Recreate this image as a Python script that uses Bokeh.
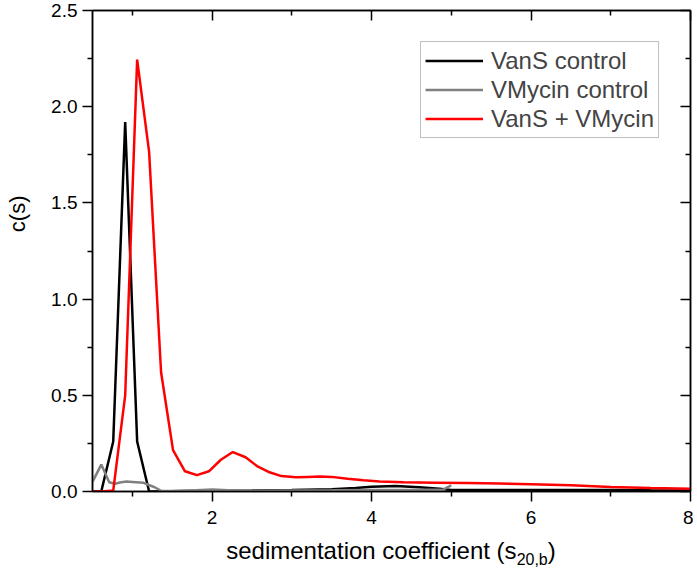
from bokeh.plotting import figure
from bokeh.models import (Range1d, LinearAxis, FixedTicker, PrintfTickFormatter,
                          Legend, LegendItem, Title, Div)
from bokeh.layouts import column
from bokeh.embed import file_html
from bokeh.resources import INLINE

# ---- data ----
vans_x = [0.5, 0.61, 0.76, 0.91, 1.06, 1.21, 1.36, 1.6, 2.0, 2.5, 3.0, 3.5, 3.8, 4.0,
          4.3, 4.6, 4.85, 5.0, 5.5, 6.0, 6.5, 7.0, 7.5, 8.0]
vans_y = [0.0, 0.0, 0.26, 1.92, 0.26, 0.0, 0.0, 0.002, 0.004, 0.005, 0.008, 0.012, 0.018,
          0.025, 0.028, 0.022, 0.014, 0.008, 0.008, 0.008, 0.008, 0.008, 0.006, 0.005]

vmyc_x = [0.5, 0.61, 0.71, 0.78, 0.86, 0.93, 1.0, 1.14, 1.28, 1.36, 1.45, 1.6, 1.8, 2.0,
          2.2, 2.5, 3.0, 3.5, 4.0, 4.5, 4.9, 4.95, 5.0]
vmyc_y = [0.05, 0.14, 0.048, 0.04, 0.048, 0.052, 0.05, 0.045, 0.022, 0.004, 0.002, 0.003,
          0.006, 0.01, 0.006, 0.004, 0.005, 0.006, 0.008, 0.008, 0.01, 0.022, 0.032]

mix_x = [0.5, 0.61, 0.76, 0.91, 1.06, 1.21, 1.36, 1.51, 1.66, 1.81, 1.96, 2.11, 2.26, 2.42,
         2.57, 2.72, 2.87, 3.05, 3.2, 3.35, 3.5, 3.7, 3.9, 4.1, 4.4, 4.8, 5.2, 5.6, 6.0,
         6.5, 7.0, 7.5, 8.0]
mix_y = [0.0, 0.0, 0.005, 0.5, 2.245, 1.765, 0.62, 0.215, 0.105, 0.085, 0.105, 0.165, 0.205,
         0.178, 0.13, 0.1, 0.08, 0.074, 0.076, 0.078, 0.076, 0.066, 0.058, 0.052, 0.048,
         0.046, 0.044, 0.042, 0.038, 0.032, 0.024, 0.018, 0.014]

series_names = ["VanS control", "VMycin control", "VanS + VMycin"]
series_colors = ["#000000", "#808080", "#ff0000"]

x_major = [2, 4, 6, 8]
x_minor = [1, 3, 5, 7]
y_major = [0.0, 0.5, 1.0, 1.5, 2.0, 2.5]
y_minor = [0.25, 0.75, 1.25, 1.75, 2.25]

y_title = "c(s)"
x_title_main = "sedimentation coefficient (s"
x_title_sub = "20,b"

FONT = "Liberation Sans"

p = figure(width=693, height=536, output_backend="svg", toolbar_location=None,
           x_range=Range1d(0.5, 8), y_range=Range1d(0, 2.5),
           x_axis_location=None, y_axis_location=None,
           min_border_left=92, min_border_right=3, min_border_top=10, min_border_bottom=45)
p.xgrid.visible = False
p.ygrid.visible = False
p.outline_line_color = "black"
p.outline_line_width = 1.5
p.background_fill_color = "white"
p.border_fill_color = "white"


def make_axis(ticks, minor, labels, out_len, in_len, fmt=None):
    ax = LinearAxis(ticker=FixedTicker(ticks=ticks, minor_ticks=minor))
    ax.axis_line_color = "black"
    ax.axis_line_width = 1.5
    ax.major_tick_line_color = "black"
    ax.minor_tick_line_color = "black"
    ax.major_tick_line_width = 1.5
    ax.minor_tick_line_width = 1.5
    ax.major_tick_out = out_len
    ax.major_tick_in = in_len
    ax.minor_tick_out = out_len // 2 if out_len else 0
    ax.minor_tick_in = in_len // 2 if in_len else 0
    if labels:
        ax.major_label_text_font = FONT
        ax.major_label_text_font_size = "19px"
        ax.major_label_text_color = "black"
        if fmt:
            ax.formatter = PrintfTickFormatter(format=fmt)
    else:
        ax.major_label_text_font_size = "0px"
        ax.major_label_standoff = 0
        ax.major_label_text_color = None
    return ax


xb = make_axis(x_major, x_minor, True, 10, 0)
xb.major_label_standoff = 9
p.add_layout(xb, "below")
yl = make_axis(y_major, y_minor, True, 10, 0, "%.1f")
yl.major_label_standoff = 5
p.add_layout(yl, "left")
xt = make_axis(x_major, x_minor, False, 0, 10)
p.add_layout(xt, "above")
yr = make_axis(y_major, y_minor, False, 0, 10)
p.add_layout(yr, "right")

# empty spacer between the tick labels and the y title
p.add_layout(Title(text=" ", text_font=FONT, text_font_size="15px",
                   text_font_style="normal", standoff=0), "left")
p.add_layout(Title(text=y_title, align="right", offset=185, standoff=0, text_font=FONT,
                   text_font_size="22px", text_font_style="normal",
                   text_color="black"), "left")

r1 = p.line(vans_x, vans_y, line_color=series_colors[0], line_width=2.5)
r2 = p.line(vmyc_x, vmyc_y, line_color=series_colors[1], line_width=2.5)
r3 = p.line(mix_x, mix_y, line_color=series_colors[2], line_width=2.5)

legend = Legend(items=[LegendItem(label=series_names[0], renderers=[r1]),
                       LegendItem(label=series_names[1], renderers=[r2]),
                       LegendItem(label=series_names[2], renderers=[r3])],
                location="top_right", margin=31, padding=4, spacing=0,
                glyph_width=58, glyph_height=29, label_height=29, label_standoff=8,
                label_text_font=FONT, label_text_font_size="24px",
                label_text_baseline="middle",
                border_line_color="#808080", border_line_width=1.2,
                background_fill_alpha=1.0)
p.add_layout(legend, "center")

xlabel = Div(text=f"{x_title_main}<sub style='font-size:16px'>{x_title_sub}</sub>)",
             width=598, height=36, margin=(2, 0, 0, 92),
             styles={"font-family": FONT, "font-size": "24px", "line-height": "26px",
                     "text-align": "center", "color": "black", "width": "598px"})

layout = column(p, xlabel, spacing=0)
open("out.html", "w").write(file_html(layout, INLINE))
